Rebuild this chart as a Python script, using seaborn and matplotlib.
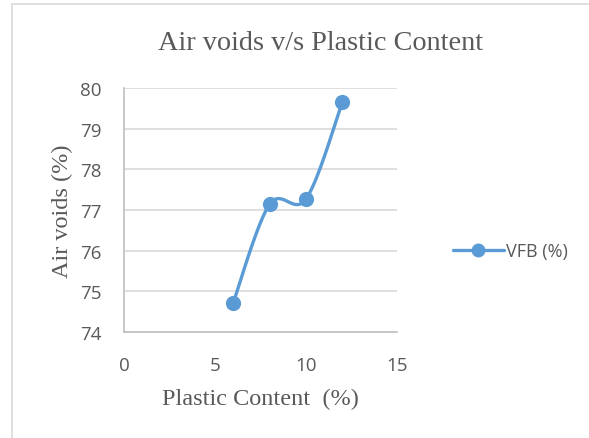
import numpy as np
import pandas as pd
import matplotlib
matplotlib.use("Agg")
import matplotlib.pyplot as plt
from matplotlib.patches import Rectangle
from matplotlib.lines import Line2D
import seaborn as sns

# Measured values
plastic_content = [6, 8, 10, 12]
vfb_values = [74.72, 77.14, 77.27, 79.65]
series_name = "VFB (%)"
x_ticks = [0, 5, 10, 15]
y_ticks = [74, 75, 76, 77, 78, 79, 80]

LINE_COLOR = "#5B9BD5"
TEXT_COLOR = "#595959"
GRID_COLOR = "#D9D9D9"
SPINE_COLOR = "#BFBFBF"


def smooth_curve(xs, ys, steps=40, tension=0.5):
    """Cardinal spline through the points, like an office chart's smoothed line."""
    xs = np.asarray(xs, float)
    ys = np.asarray(ys, float)
    px = np.concatenate([[xs[0]], xs, [xs[-1]]])
    py = np.concatenate([[ys[0]], ys, [ys[-1]]])
    out_x, out_y = [], []
    for i in range(1, len(px) - 2):
        p0 = np.array([px[i - 1], py[i - 1]])
        p1 = np.array([px[i], py[i]])
        p2 = np.array([px[i + 1], py[i + 1]])
        p3 = np.array([px[i + 2], py[i + 2]])
        m1 = tension * (p2 - p0)
        m2 = tension * (p3 - p1)
        t = np.linspace(0, 1, steps)[:, None]
        h00 = 2 * t**3 - 3 * t**2 + 1
        h10 = t**3 - 2 * t**2 + t
        h01 = -2 * t**3 + 3 * t**2
        h11 = t**3 - t**2
        pts = h00 * p1 + h10 * m1 + h01 * p2 + h11 * m2
        out_x.extend(pts[:, 0])
        out_y.extend(pts[:, 1])
    return np.array(out_x), np.array(out_y)


sns.set_theme(style="white")
plt.rcParams["font.family"] = ["Open Sans", "DejaVu Sans"]

df = pd.DataFrame({"plastic": plastic_content, "vfb": vfb_values})
cx, cy = smooth_curve(df["plastic"], df["vfb"])
curve = pd.DataFrame({"plastic": cx, "vfb": cy, "order": np.arange(len(cx))})

fig = plt.figure(figsize=(5.89, 4.39), dpi=100)
ax = fig.add_axes([124 / 589, 1 - 333 / 439, (397 - 124) / 589, (333 - 89) / 439])

# Chart frame
fig.patches.append(Rectangle((12 / 589, -0.05), 1.2, 1 - 5 / 439 + 0.05,
                             transform=fig.transFigure, fill=False,
                             edgecolor=GRID_COLOR, linewidth=1.2))

sns.lineplot(data=curve, x="plastic", y="vfb", sort=False, estimator=None,
             color=LINE_COLOR, linewidth=2.4, ax=ax, legend=False)
sns.scatterplot(data=df, x="plastic", y="vfb", color=LINE_COLOR, s=120,
                edgecolor=LINE_COLOR, linewidth=0, ax=ax, legend=False, zorder=3)

ax.set_xlim(0, 15)
ax.set_ylim(74, 80)
ax.set_xticks(x_ticks)
ax.set_yticks(y_ticks)
ax.yaxis.grid(True, color=GRID_COLOR, linewidth=1.2)
ax.xaxis.grid(False)
for side in ["top", "right"]:
    ax.spines[side].set_visible(False)
for side in ["left", "bottom"]:
    ax.spines[side].set_color(SPINE_COLOR)
    ax.spines[side].set_linewidth(1.2)
ax.tick_params(axis="both", length=0, labelsize=13.5, labelcolor=TEXT_COLOR)
ax.tick_params(axis="y", pad=16)
ax.tick_params(axis="x", pad=17)

serif = ["Liberation Serif", "DejaVu Serif"]
ax.set_xlabel("Plastic Content  (%)", family=serif, fontsize=17.5, color=TEXT_COLOR, labelpad=10)
ax.set_ylabel("Air voids (%)", family=serif, fontsize=17.5, color=TEXT_COLOR, labelpad=5)
fig.text(321 / 589, 1 - 44 / 439, "Air voids v/s Plastic Content", family=serif,
         fontsize=20.3, color=TEXT_COLOR, ha="center", va="center")

handle = Line2D([], [], color=LINE_COLOR, linewidth=2.4, marker="o",
                markersize=10, markeredgewidth=0)
fig.legend([handle], [series_name], loc="center left",
           bbox_to_anchor=(444 / 589, 1 - 252 / 439), frameon=False,
           fontsize=13, labelcolor=TEXT_COLOR, handlelength=2.8,
           handletextpad=0.15, borderpad=0)

fig.savefig("out.png", dpi=100)
